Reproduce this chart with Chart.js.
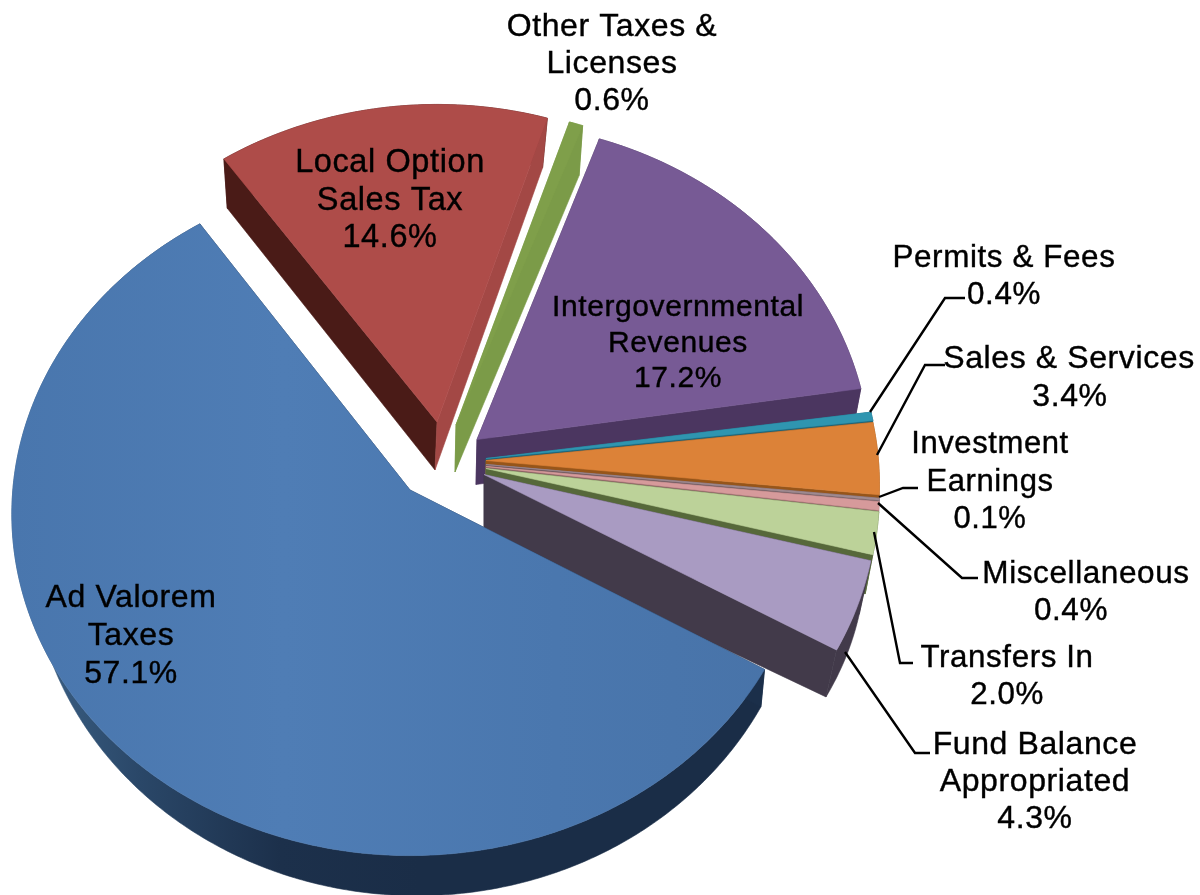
<!DOCTYPE html>
<html><head><meta charset="utf-8">
<style>html,body{margin:0;padding:0;background:#fff}canvas{display:block}</style>
<script src="https://cdn.jsdelivr.net/npm/chart.js@4/dist/chart.umd.min.js"></script>
</head><body><canvas id="c" width="1200" height="895"></canvas>
<script>
const categories = ["Ad Valorem Taxes","Local Option Sales Tax","Other Taxes & Licenses","Intergovernmental Revenues","Permits & Fees","Sales & Services","Investment Earnings","Miscellaneous","Transfers In","Fund Balance Appropriated"];
const shares = [57.1,14.6,0.6,17.2,0.4,3.4,0.1,0.4,2.0,4.3];
const topColors = ["#4b79b0","#ae4c49","#7f9f4a","#775a95","#2f95b0","#dc8238","#a08a90","#d69a9b","#bcd299","#a99bc2"];
const wallColors = ["#1b2f4a","#4a1b17","#7a9a47","#4b3660","#1f6478","#96551a","#6f5a60","#8c6264","#56683a","#423a4a"];
const innerWallColors = ["#1b2f4a","#a34845","#7b9b48","#4b3660","#1f6478","#96551a","#6f5a60","#8c6264","#56683a","#423a4a"];
const labelLines = [["Ad Valorem","Taxes"],["Local Option","Sales Tax"],["Other Taxes &","Licenses"],["Intergovernmental","Revenues"],["Permits & Fees"],["Sales & Services"],["Investment","Earnings"],["Miscellaneous"],["Transfers In"],["Fund Balance","Appropriated"]];

// Layout of the exploded 3D look (screen offsets from the chart centre)
const apexOffset = [[-190,42.5],[-163,-25.5],[-144,-22.5],[-123,-8],[-114,11],[-114,13],[-114,17],[-114,19],[-114,21],[-116,27]];
const wallOffset = [[7,35],[-2,48],[-1,47],[-1,45],[0,40],[0,40],[0,40],[0,40],[0,40],[0,60]];
const wallScale = [[.97,1.014],[.975,.995],[.98,.99],[.98,.99],[.98,.99],[.98,.99],[.98,.99],[.98,.99],[.98,.99],[.97,.925]];
const rimScaleX = [1.012,1,1,1,1,1,1,1,1,1];
const viewTurn = [-0.3,-1.3,-0.8,-1.5,-0.7,-0.7,-0.8,-0.9,-1,-1];
const drawOrder = [3,2,1,4,5,6,7,8,9,0];
const labelAnchors = [[131,607,38],[390,172,37.5],[612,36,37],[678,316,35.5],[1004,267,37],[1069,368,38],[990,453,37.5],[1086,583,37],[1007,667,37],[1035,754,37]];
const labelSizes = [32,32.5,32,30,31.4,32,31,31.5,31.3,32];
const percentShift = [0,0,0,0,0,1,0,-15,0,0];
const leaders = [
 [[870,412],[945,298],[965,298]],
 [[877,455],[925,365],[945,365]],
 [[879,497],[903,488],[918,488]],
 [[878,503],[962,578],[978,578]],
 [[874,532],[900,663],[913,663]],
 [[845,652],[915,753],[930,753]]
];
const ELLIPSE_X = 0.877, ELLIPSE_Y = 0.7595, PERSPECTIVE = 0.0703;

function rimPoint(el,i,a,bottom){
  const t=a+viewTurn[i]*Math.PI/180, u=Math.cos(t), v=Math.sin(t), k=1/(1-PERSPECTIVE*v), R=el.outerRadius;
  let rx=R*rimScaleX[i]*ELLIPSE_X*u*k, ry=R*ELLIPSE_Y*v*k;
  const [x,y]=apex(el,i,bottom);
  if(bottom){ rx*=wallScale[i][0]; ry*=wallScale[i][1]; }
  return [x+rx,y+ry];
}
function apex(el,i,bottom){
  const [ox,oy]=apexOffset[i]; let x=el.x+ox, y=el.y+oy;
  if(bottom){ x+=wallOffset[i][0]; y+=wallOffset[i][1]; }
  return [x,y];
}
function poly(ctx,pts,fill){
  ctx.beginPath(); pts.forEach((p,j)=> j?ctx.lineTo(p[0],p[1]):ctx.moveTo(p[0],p[1])); ctx.closePath();
  ctx.fillStyle=fill; ctx.fill(); ctx.strokeStyle=fill; ctx.lineWidth=.6; ctx.stroke();
}
function arcAngles(el){ const out=[]; const n=Math.max(4,Math.ceil((el.endAngle-el.startAngle)/0.01));
  for(let j=0;j<=n;j++) out.push(el.startAngle+(el.endAngle-el.startAngle)*j/n); return out; }

const pie3d = {
  id:'pie3d',
  beforeDatasetDraw(chart,args){
    const ctx=chart.ctx, arcs=chart.getDatasetMeta(0).data;
    ctx.save();
    drawOrder.forEach(i=>{
      const el=arcs[i], as=arcAngles(el);
      const A=apex(el,i,false), B=apex(el,i,true);
      const s0=rimPoint(el,i,el.startAngle,false), s1=rimPoint(el,i,el.startAngle,true);
      const e0=rimPoint(el,i,el.endAngle,false), e1=rimPoint(el,i,el.endAngle,true);
      let rimFill=wallColors[i];
      if(i===0){
        const g=ctx.createLinearGradient(20,0,420,0);
        g.addColorStop(0,"#3d6388");g.addColorStop(.3,"#2a4768");g.addColorStop(.65,"#1c304b");g.addColorStop(1,"#1a2d47");
        rimFill=g;
      }
      const rim=as.map(a=>rimPoint(el,i,a,false)).concat(as.slice().reverse().map(a=>rimPoint(el,i,a,true)));
      poly(ctx,rim,rimFill);
      poly(ctx,[A,s0,s1,B],wallColors[i]);
      poly(ctx,[A,e0,e1,B],innerWallColors[i]);
      let topFill=topColors[i];
      if(i===0){
        const g=ctx.createLinearGradient(10,0,790,0);
        g.addColorStop(0,"#4976ad");g.addColorStop(.35,"#4f7db5");g.addColorStop(.7,"#4a77ae");g.addColorStop(1,"#4873a8");
        topFill=g;
      }
      poly(ctx,[A].concat(as.map(a=>rimPoint(el,i,a,false))),topFill);
    });
    ctx.strokeStyle="#000"; ctx.lineWidth=2.4; ctx.lineJoin="miter";
    leaders.forEach(l=>{ ctx.beginPath(); l.forEach((p,j)=> j?ctx.lineTo(p[0],p[1]):ctx.moveTo(p[0],p[1])); ctx.stroke(); });
    ctx.fillStyle="#000"; ctx.strokeStyle="#000"; ctx.lineWidth=.4;
    ctx.textAlign="center"; ctx.textBaseline="alphabetic";
    if('letterSpacing' in ctx) ctx.letterSpacing="0.6px";
    const put=(t,x,y)=>{ ctx.fillText(t,x,y); ctx.strokeText(t,x,y); };
    categories.forEach((c,i)=>{
      const [x,y,step]=labelAnchors[i];
      ctx.font=labelSizes[i]+'px "Liberation Sans", Arial, sans-serif';
      const lines=labelLines[i];
      lines.forEach((t,j)=>put(t,x,y+j*step));
      put(shares[i].toFixed(1)+"%",x+percentShift[i],y+lines.length*step);
    });
    ctx.restore();
    return false;
  }
};

new Chart(document.getElementById('c'),{
  type:'pie',
  data:{labels:categories,datasets:[{data:shares,backgroundColor:topColors,borderWidth:0}]},
  options:{responsive:false,animation:false,rotation:120.9,layout:{padding:0},
    plugins:{legend:{display:false},tooltip:{enabled:false}}},
  plugins:[pie3d]
});
</script></body></html>
